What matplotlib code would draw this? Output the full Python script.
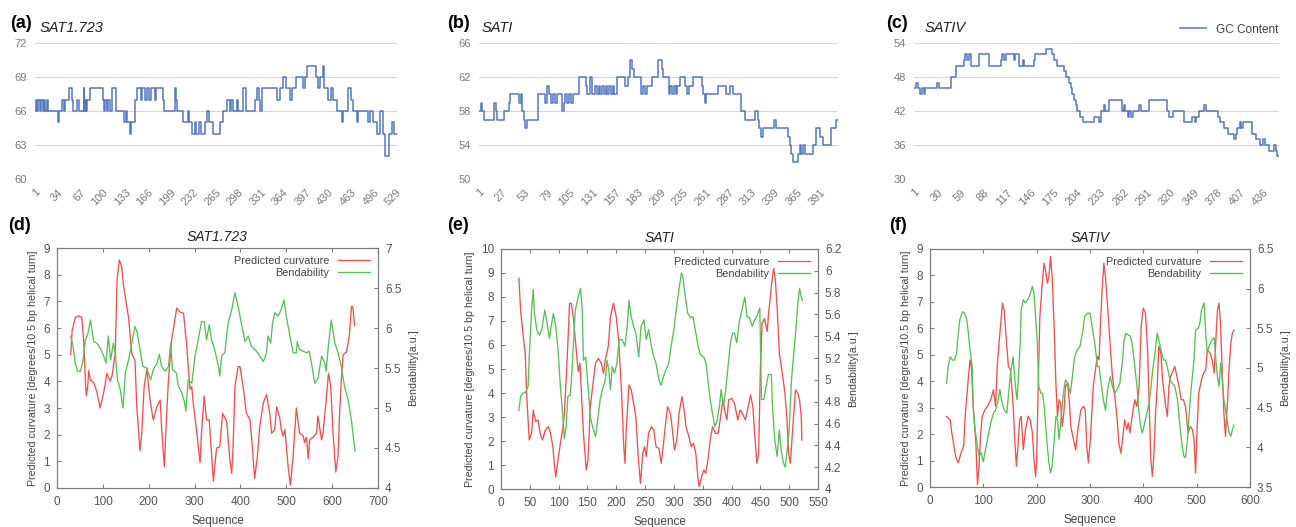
import numpy as np
import matplotlib
matplotlib.use("Agg")
import matplotlib.pyplot as plt
from matplotlib.ticker import FormatStrFormatter

plt.rcParams['font.family'] = ['Liberation Sans', 'DejaVu Sans']

# ---- GC content (step series, breakpoints: index -> value) ----
gc_a_idx = [1, 2, 4, 6, 8, 10, 12, 14, 16, 18, 20, 34, 36, 40, 43, 45, 50, 55, 56, 63, 65, 72, 73, 75, 76, 77, 81,
            101, 102, 104, 106, 108, 110, 114, 119, 120, 131, 134, 136, 140, 142, 147, 150, 156, 158, 162, 164, 168,
            170, 176, 178, 188, 190, 205, 207, 209, 218, 224, 226, 231, 235, 237, 241, 243, 249, 253, 256, 261, 272,
            276, 282, 286, 288, 291, 296, 298, 305, 309, 322, 326, 329, 330, 332, 354, 359, 364, 368, 374, 376, 383,
            393, 395, 398, 411, 415, 417, 420, 422, 424, 429, 434, 436, 442, 450, 451, 458, 463, 466, 471, 473, 488,
            490, 495, 501, 505, 509, 512, 519, 523, 525, 530]
gc_a_val = [66, 67, 66, 67, 66, 67, 66, 67, 66, 67, 66, 65, 66, 67, 66, 67, 68, 67, 66, 67, 66, 68, 66, 67, 66, 67, 68,
            67, 66, 67, 66, 67, 66, 68, 67, 66, 65, 66, 65, 64, 65, 67, 68, 67, 68, 67, 68, 67,
            68, 67, 68, 67, 66, 68, 67, 66, 65, 66, 65, 64, 65, 64, 65, 64, 65, 66, 65, 64, 65,
            66, 67, 66, 67, 66, 67, 66, 68, 66, 67, 68, 67, 66, 68, 67, 68, 69, 68, 67, 68, 69,
            68, 69, 70, 69, 68, 69, 69, 70, 68, 67, 68, 67, 66, 65, 66, 68, 67, 66, 65, 66, 65,
            66, 65, 64, 66, 64, 62, 64, 65, 64, 64]

gc_b_idx = [1, 3, 5, 7, 18, 20, 22, 30, 35, 37, 47, 49, 50, 52, 54, 56, 68, 69, 77, 79, 81, 83, 86, 88, 90, 96, 98,
            100, 102, 104, 106, 109, 115, 123, 125, 128, 130, 134, 136, 138, 140, 142, 144, 146, 148, 150, 152, 154,
            156, 159, 168, 172, 174, 176, 178, 185, 187, 189, 191, 193, 199, 206, 210, 212, 218, 220, 222, 224, 226,
            228, 231, 237, 239, 241, 246, 256, 258, 260, 261, 275, 284, 288, 292, 301, 305, 317, 320, 322, 324, 326,
            339, 341, 355, 357, 358, 360, 366, 368, 370, 372, 374, 381, 383, 387, 391, 395, 404, 410, 412]
gc_b_val = [58, 59, 58, 57, 59, 58, 57, 58, 59, 60, 59, 60, 58, 57, 56, 57, 59, 60, 59, 61, 60, 59, 60, 59, 60, 58, 59,
            60, 59, 60, 59, 60, 62, 61, 60, 62, 60, 61, 60, 61, 60, 61, 60, 61, 60, 61, 60, 61,
            60, 62, 61, 62, 64, 63, 62, 62, 60, 61, 60, 61, 62, 64, 63, 62, 60, 61, 60, 61, 60,
            61, 62, 61, 60, 61, 62, 61, 60, 59, 60, 61, 60, 61, 60, 58, 57, 58, 57, 56, 55, 56,
            57, 56, 55, 54, 53, 52, 53, 54, 53, 54, 53, 53, 54, 56, 55, 54, 56, 57, 57]

gc_c_idx = [1, 4, 6, 9, 11, 13, 15, 30, 32, 47, 53, 63, 65, 67, 69, 72, 82, 94, 109, 111, 113, 115, 125, 127, 132, 136,
            138, 150, 152, 165, 173, 175, 179, 188, 190, 194, 196, 198, 200, 202, 204, 208, 211, 225, 231, 233, 237,
            239, 244, 260, 262, 264, 267, 269, 271, 273, 281, 283, 293, 316, 318, 323, 337, 347, 350, 352, 356, 362,
            364, 379, 381, 387, 391, 399, 401, 403, 406, 408, 410, 422, 426, 431, 435, 437, 443, 449, 451, 453, 455]
gc_c_val = [46, 47, 46, 45, 46, 45, 46, 47, 46, 48, 50, 51, 52, 51, 52, 50, 52, 50, 51, 52, 51, 52, 51, 52, 50, 51,
            50, 51, 52, 53, 52, 51, 50, 49, 48, 47, 46, 45, 44, 43, 42, 41, 40, 41, 40, 42, 43,
            42, 44, 42, 43, 42, 41, 42, 41, 42, 43, 42, 44, 42, 41, 42, 40, 41, 40, 41, 42, 43,
            42, 41, 40, 39, 38, 37, 38, 39, 40, 39, 40, 38, 37, 36, 37, 36, 35, 36, 35, 34, 34]

# ---- Curvature / bendability ----
d_curv_x = [30, 33, 40, 47, 54, 58, 62, 64, 67, 69, 73, 80, 87, 94, 102, 109, 116, 120, 127, 131, 136, 141, 145, 156,
            163, 167, 170, 174, 181, 185, 190, 196, 203, 210, 218, 225, 228, 234, 239, 243, 250, 257, 261, 268, 276,
            283, 290, 294, 297, 305, 312, 315, 321, 326, 332, 341, 348, 355, 361, 370, 377, 381, 384, 388, 395, 399,
            406, 413, 421, 426, 431, 437, 442, 450, 457, 464, 468, 475, 479, 486, 489, 493, 497, 504, 509, 515, 518,
            522, 529, 537, 540, 544, 548, 551, 558, 566, 569, 577, 580, 587, 592, 597, 602, 608, 613, 616, 620, 624,
            631, 635, 638, 642, 645, 649]
d_curv_y = [5.0, 5.9, 6.4, 6.45, 6.4, 5.6, 4.0, 3.45, 3.8, 4.4, 4.05, 3.95, 3.6, 3.0, 3.6, 4.3, 4.0, 4.2, 5.05, 7.8,
            8.55, 8.3, 7.6, 6.4, 5.05, 4.9, 4.8, 3.05, 1.4, 2.1, 3.8, 4.45, 3.3, 2.55, 3.05, 3.3, 2.3, 0.8, 2.7, 4.05,
            5.55, 6.3, 6.75, 6.6, 6.55, 5.3, 3.7, 3.8, 3.2, 2.05, 0.95, 2.05, 3.45, 2.55, 2.55, 0.25, 1.5, 1.55, 2.8,
            2.5, 1.05, 0.55, 1.55, 3.8, 4.55, 4.55, 3.8, 2.8, 2.55, 1.55, 0.35, 1.2, 2.3, 3.2, 3.5, 2.8, 2.05, 2.2,
            3.05, 2.6, 2.2, 1.95, 2.2, 0.8, 0.1, 1.2, 2.05, 3.0, 2.05, 1.95, 1.7, 1.9, 1.1, 1.8, 1.9, 2.05, 2.7, 1.8,
            2.05, 3.3, 4.3, 3.8, 2.05, 0.6, 1.2, 2.7, 4.05, 5.0, 5.1, 5.45, 5.8, 6.8, 6.8, 6.1]
d_bend_x = [30, 35, 40, 45, 51, 57, 62, 67, 73, 80, 87, 94, 102, 107, 112, 117, 123, 127, 132, 138, 144, 149, 156, 163,
            170, 175, 181, 187, 196, 204, 210, 218, 223, 228, 236, 243, 248, 252, 260, 265, 272, 277, 281, 286, 294,
            301, 308, 315, 321, 326, 332, 337, 344, 352, 355, 359, 366, 373, 381, 388, 395, 402, 410, 417, 424, 435,
            442, 450, 457, 460, 466, 470, 475, 482, 489, 495, 500, 508, 515, 522, 524, 529, 537, 544, 550, 555, 562,
            569, 577, 584, 587, 591, 598, 606, 613, 620, 627, 635, 642, 647, 650]
d_bend_y = [5.9, 5.77, 5.56, 5.46, 5.46, 5.6, 5.85, 5.92, 6.1, 5.83, 5.81, 5.75, 5.65, 5.56, 5.9, 5.6, 5.81, 5.69,
            5.35, 5.23, 5.0, 5.44, 5.6, 5.81, 6.02, 5.94, 5.73, 5.52, 5.5, 5.35, 5.48, 5.56, 5.67, 5.52, 5.46, 5.52,
            5.81, 5.48, 5.44, 5.27, 5.19, 5.1, 4.96, 5.35, 5.31, 5.65, 5.85, 6.08, 6.08, 5.85, 6.04, 5.85, 5.73, 5.52,
            5.4, 5.65, 5.69, 6.06, 6.23, 6.44, 6.27, 6.06, 5.83, 5.9, 5.77, 5.71, 5.65, 5.58, 5.69, 5.9, 5.81, 6.06,
            6.19, 6.15, 6.23, 6.35, 6.15, 5.9, 5.69, 5.69, 5.83, 5.73, 5.71, 5.69, 5.71, 5.56, 5.31, 5.37, 5.65, 5.56,
            5.46, 5.73, 6.1, 5.81, 5.69, 5.52, 5.27, 5.1, 4.85, 4.6, 4.46]

e_curv_x = [31, 34, 38, 42, 45, 49, 53, 56, 60, 64, 68, 72, 77, 82, 86, 90, 93, 95, 99, 103, 107, 110, 115, 119, 122,
            126, 130, 134, 137, 139, 143, 148, 151, 155, 159, 164, 169, 174, 178, 181, 186, 190, 195, 200, 204, 209,
            213, 215, 217, 222, 226, 230, 234, 238, 242, 246, 249, 252, 256, 261, 265, 269, 274, 278, 282, 285, 289,
            294, 298, 301, 305, 309, 314, 317, 321, 326, 330, 334, 338, 342, 344, 348, 352, 355, 359, 363, 367, 372,
            377, 381, 385, 388, 392, 395, 400, 405, 411, 415, 419, 424, 429, 433, 437, 440, 444, 447, 450, 453, 457,
            462, 464, 469, 473, 476, 479, 483, 488, 492, 496, 499, 502, 506, 511, 515, 518, 521, 522]
e_curv_y = [8.78, 7.46, 6.49, 5.65, 3.71, 2.04, 2.32, 3.29, 2.81, 2.88, 2.32, 2.04, 2.46, 2.6, 2.32, 1.76, 0.93, 0.51,
            1.21, 1.9, 2.46, 3.15, 5.51, 7.74, 7.74, 7.04, 5.93, 4.89, 5.24, 4.26, 2.32, 0.79, 1.21, 3.43, 4.26, 5.24,
            5.44, 5.24, 4.82, 5.38, 5.93, 7.18, 7.74, 7.18, 6.21, 4.13, 1.76, 1.07, 2.32, 4.33, 4.13, 3.57, 3.01, 1.35,
            0.24, 1.49, 1.76, 1.35, 2.32, 2.6, 2.46, 1.76, 1.69, 1.07, 1.9, 2.6, 3.43, 3.15, 2.32, 1.63, 2.04, 3.15,
            3.85, 3.43, 2.6, 2.18, 1.76, 1.9, 1.49, 0.38, 0.1, 0.51, 0.79, 0.65, 1.21, 2.04, 2.6, 2.32, 2.32, 3.01,
            3.71, 3.29, 2.88, 3.71, 3.78, 3.57, 2.88, 3.29, 3.15, 2.88, 3.43, 3.92, 3.43, 2.32, 1.07, 1.49, 4.96, 6.9,
            7.11, 6.56, 7.25, 8.43, 9.19, 8.71, 7.6, 5.65, 4.82, 4.13, 3.01, 1.49, 1.07, 2.46, 4.13, 3.99, 3.71, 3.01,
            2.04]
e_bend_x = [31, 34, 38, 42, 47, 49, 53, 56, 58, 62, 67, 71, 76, 80, 84, 87, 91, 95, 99, 103, 107, 110, 113, 116, 120,
            123, 126, 129, 134, 138, 141, 143, 147, 151, 155, 159, 164, 167, 172, 176, 181, 184, 187, 190, 193, 197,
            201, 205, 210, 215, 219, 222, 226, 230, 234, 239, 243, 248, 252, 256, 261, 265, 269, 274, 278, 282, 286,
            291, 296, 300, 304, 308, 313, 315, 320, 324, 329, 333, 337, 342, 346, 352, 356, 359, 363, 367, 371, 375,
            379, 382, 386, 390, 395, 398, 402, 405, 409, 414, 418, 423, 427, 431, 436, 440, 444, 449, 452, 456, 460,
            464, 469, 471, 475, 479, 483, 486, 490, 493, 496, 500, 504, 508, 512, 515, 518, 521, 523]
e_bend_y = [4.72, 4.85, 4.88, 4.88, 4.94, 5.21, 5.64, 5.83, 5.61, 5.46, 5.41, 5.47, 5.64, 5.52, 5.38, 5.49, 5.61,
            5.49, 5.28, 4.94, 4.69, 4.46, 4.57, 4.85, 4.86, 5.06, 5.37, 5.64, 5.76, 5.84, 5.64, 5.18, 5.21, 4.94, 4.66,
            4.57, 4.48, 4.6, 4.82, 4.91, 5.0, 5.18, 5.09, 4.91, 5.12, 5.06, 5.15, 5.37, 5.37, 5.31, 5.49, 5.73, 5.58,
            5.49, 5.43, 5.21, 5.49, 5.55, 5.37, 5.46, 5.31, 5.21, 5.15, 5.0, 4.95, 5.03, 5.09, 5.15, 5.34, 5.46, 5.64,
            5.8, 5.98, 5.96, 5.76, 5.61, 5.57, 5.58, 5.46, 5.31, 5.23, 5.21, 5.15, 5.0, 4.82, 4.69, 4.57, 4.63, 4.76,
            4.91, 4.76, 4.91, 5.18, 5.34, 5.43, 5.43, 5.34, 5.55, 5.64, 5.76, 5.58, 5.57, 5.49, 5.55, 5.58, 5.66, 4.82,
            4.82, 4.94, 5.05, 5.05, 4.76, 4.45, 4.3, 4.54, 4.36, 4.24, 4.2, 4.33, 4.54, 5.0, 5.24, 5.49, 5.7, 5.84,
            5.76, 5.73]

f_curv_x = [31, 38, 40, 44, 48, 53, 58, 63, 66, 70, 75, 78, 81, 86, 89, 92, 95, 98, 103, 108, 114, 119, 123, 126, 131,
            136, 139, 144, 147, 151, 156, 159, 162, 165, 168, 171, 175, 179, 184, 188, 192, 195, 198, 200, 203, 206,
            211, 214, 217, 220, 223, 226, 229, 233, 236, 239, 242, 245, 248, 251, 254, 258, 261, 264, 269, 273, 278,
            283, 288, 291, 294, 297, 301, 306, 311, 314, 317, 320, 323, 326, 329, 333, 338, 342, 346, 351, 354, 358,
            361, 365, 369, 372, 375, 379, 384, 388, 392, 396, 400, 404, 408, 411, 414, 417, 420, 423, 426, 429, 433,
            436, 439, 442, 445, 448, 451, 454, 459, 463, 467, 471, 475, 479, 484, 488, 492, 495, 498, 501, 504, 509,
            513, 517, 520, 525, 529, 533, 536, 539, 542, 545, 548, 551, 554, 558, 561, 564, 567, 570]
f_curv_y = [2.67, 2.54, 2.17, 1.66, 1.16, 0.91, 1.28, 1.54, 2.67, 3.68, 4.81, 4.43, 3.05, 1.66, 0.09, 0.78, 2.04, 2.67,
            2.92, 3.05, 3.3, 3.68, 3.05, 4.56, 5.82, 6.95, 6.7, 5.32, 4.56, 4.43, 3.05, 1.79, 0.78, 1.54, 2.54, 2.67,
            1.41, 2.17, 2.67, 2.54, 2.04, 1.03, 0.4, 1.03, 3.93, 6.45, 7.83, 8.46, 8.15, 7.71, 7.96, 8.72, 7.96, 5.94,
            3.93, 2.67, 3.3, 3.17, 2.29, 2.8, 3.8, 3.93, 3.3, 2.29, 1.79, 1.41, 2.29, 2.92, 3.05, 2.92, 1.54, 0.91,
            1.91, 3.8, 4.56, 4.94, 4.81, 6.32, 7.58, 8.46, 7.96, 6.83, 5.32, 4.18, 3.55, 2.54, 1.66, 1.28, 1.79, 2.54,
            2.17, 2.42, 2.04, 2.67, 3.3, 3.05, 3.8, 6.07, 6.76, 6.57, 5.19, 3.05, 1.03, 0.4, 1.28, 2.8, 3.8, 5.32,
            5.06, 4.06, 3.55, 3.05, 2.67, 3.8, 4.18, 4.31, 4.56, 4.18, 3.8, 3.3, 3.3, 3.05, 2.04, 2.29, 2.17, 1.79,
            0.53, 2.29, 3.55, 4.06, 4.31, 4.43, 5.19, 5.06, 4.81, 4.31, 5.57, 6.7, 6.95, 6.07, 4.31, 2.8, 1.91, 3.3,
            4.56, 5.44, 5.82, 5.94]
f_bend_x = [31, 34, 38, 42, 46, 50, 53, 56, 61, 65, 69, 72, 75, 79, 81, 84, 89, 92, 96, 100, 104, 109, 114, 119, 123,
            128, 131, 134, 139, 144, 148, 151, 156, 159, 163, 165, 169, 171, 175, 179, 183, 186, 189, 192, 195, 198,
            201, 204, 208, 211, 214, 217, 220, 223, 226, 229, 233, 236, 239, 242, 245, 250, 254, 258, 263, 267, 271,
            276, 281, 286, 290, 295, 300, 304, 309, 314, 317, 320, 325, 329, 333, 338, 342, 346, 351, 356, 361, 364,
            367, 371, 376, 379, 384, 388, 392, 395, 398, 401, 404, 408, 411, 414, 417, 421, 426, 429, 433, 438, 442,
            446, 450, 454, 459, 464, 467, 470, 473, 476, 479, 483, 486, 490, 495, 498, 503, 506, 509, 514, 517, 520,
            523, 528, 533, 536, 539, 542, 545, 548, 551, 556, 561, 564, 567, 570]
f_bend_y = [4.81, 5.02, 5.14, 5.1, 5.1, 5.19, 5.44, 5.61, 5.71, 5.69, 5.61, 5.44, 5.23, 5.02, 4.52, 4.26, 4.01, 3.89,
            3.93, 3.82, 3.97, 4.14, 4.31, 4.43, 4.47, 4.6, 4.73, 4.6, 4.47, 4.43, 4.73, 4.94, 5.14, 4.85, 4.6, 4.77,
            5.31, 5.73, 5.86, 5.82, 5.86, 5.9, 5.96, 6.03, 5.94, 5.65, 5.35, 4.77, 4.68, 4.68, 4.52, 4.26, 4.01, 3.8,
            3.68, 3.76, 4.1, 4.39, 4.35, 4.1, 4.31, 4.68, 4.85, 4.81, 4.68, 4.89, 5.14, 5.23, 5.27, 5.44, 5.65, 5.69,
            5.69, 5.52, 5.31, 5.02, 5.02, 4.85, 4.6, 4.47, 4.73, 4.89, 4.77, 4.68, 4.73, 4.81, 5.1, 5.35, 5.44, 5.42,
            5.4, 5.31, 5.02, 4.77, 4.43, 4.26, 4.18, 4.26, 4.35, 4.47, 4.56, 4.73, 4.94, 5.14, 5.44, 5.35, 5.23, 5.1,
            5.1, 4.98, 4.85, 4.81, 4.77, 4.6, 4.39, 4.18, 4.01, 3.89, 3.87, 4.1, 4.43, 4.77, 5.1, 5.48, 5.5, 5.56,
            5.73, 5.82, 5.44, 5.19, 5.27, 5.35, 5.38, 5.1, 4.89, 4.77, 5.06, 4.85, 4.6, 4.39, 4.18, 4.14, 4.22, 4.28]

W, H = 1296, 527
fig = plt.figure(figsize=(W / 100, H / 100), dpi=100)


def px(l, t, r, b):
    return [l / W, 1 - b / H, (r - l) / W, (b - t) / H]


blue = '#5477c4'
grey = '#7a7a7a'


def gc_panel(rect, idx, val, ticks, ylim, yticks, label, name, lx, nx, legend=False):
    ax = fig.add_axes(px(*rect))
    ax.step(idx, val, where='post', color=blue, lw=1.1, label='GC Content')
    ax.set_xlim(1, idx[-1])
    ax.set_ylim(*ylim)
    ax.set_yticks(yticks)
    ax.set_xticks(ticks)
    ax.set_xticklabels([str(t) for t in ticks], rotation=45, ha='right', rotation_mode='anchor')
    ax.grid(axis='y', color='#d6d6d6', lw=0.8)
    for s in ax.spines.values():
        s.set_visible(False)
    ax.tick_params(length=0, labelsize=8, colors=grey, pad=6)
    fig.text(lx / W, 1 - 24 / H, label, fontsize=13, fontweight='bold', va='center')
    fig.text(nx / W, 1 - 28 / H, name, fontsize=10.5, style='italic', va='center', color='#222222')
    if legend:
        ax.legend(loc='lower right', bbox_to_anchor=(1.01, 1.02), frameon=False, fontsize=8.5,
                  handlelength=2.2, borderaxespad=0, labelcolor='#444444')
    return ax


gc_panel((35, 43, 397, 179), gc_a_idx, gc_a_val, list(range(1, 530, 33)), (60, 72), [60, 63, 66, 69, 72],
         '(a)', 'SAT1.723', 10, 40)
gc_panel((479, 43, 838, 179), gc_b_idx, gc_b_val, list(range(1, 392, 26)), (50, 66), [50, 54, 58, 62, 66],
         '(b)', 'SATI', 447, 482)
gc_panel((914, 43, 1279, 179), gc_c_idx, gc_c_val, list(range(1, 437, 29)), (30, 54), [30, 36, 42, 48, 54],
         '(c)', 'SATIV', 886, 925, legend=True)

red = '#f24f4f'
green = '#58c058'
frame = '#7d7d7d'


def curv_panel(rect, cx, cy, bx, by, xlim, xticks, ylim, yticks, y2lim, y2ticks, label, name, lx):
    ax = fig.add_axes(px(*rect))
    ax2 = ax.twinx()
    l1, = ax.plot(cx, cy, color=red, lw=0.95, label='Predicted curvature')
    l2, = ax2.plot(bx, by, color=green, lw=0.95, label='Bendability')
    ax.set_xlim(*xlim)
    ax.set_xticks(xticks)
    ax.set_ylim(*ylim)
    ax.set_yticks(yticks)
    ax2.set_ylim(*y2lim)
    ax2.set_yticks(y2ticks)
    ax2.yaxis.set_major_formatter(FormatStrFormatter('%g'))
    for a in (ax, ax2):
        for s in a.spines.values():
            s.set_color(frame)
            s.set_linewidth(0.8)
        a.tick_params(direction='in', length=3, labelsize=8.5, colors='#555555', color=frame, pad=5)
    ax.tick_params(axis='x', top=True, pad=6)
    ax.set_xlabel('Sequence', fontsize=8.5, color='#444444', labelpad=5)
    ax.set_ylabel('Predicted curvature [degrees/10.5 bp helical turn]', fontsize=7.7, color='#444444', labelpad=4)
    ax2.set_ylabel('Bendability[a.u.]', fontsize=7.7, color='#444444', labelpad=5)
    ax.set_title(name, fontsize=10, style='italic', color='#222222', pad=5)
    ax.legend([l1, l2], ['Predicted curvature', 'Bendability'], loc='upper right', frameon=False,
              markerfirst=False, fontsize=7.8, handlelength=3.0, labelspacing=0.2, borderaxespad=0.3,
              labelcolor='#444444', handletextpad=0.8)
    fig.text(lx / W, 1 - 226 / H, label, fontsize=13, fontweight='bold', va='center')


curv_panel((57, 248, 378, 488), d_curv_x, d_curv_y, d_bend_x, d_bend_y, (0, 700), range(0, 701, 100),
           (0, 9), range(0, 10), (4, 7), np.arange(4, 7.01, 0.5), '(d)', 'SAT1.723', 8)
curv_panel((501, 249, 818, 489), e_curv_x, e_curv_y, e_bend_x, e_bend_y, (0, 550), range(0, 551, 50),
           (0, 10), range(0, 11), (4, 6.2), np.arange(4, 6.21, 0.2), '(e)', 'SATI', 447)
curv_panel((930, 249, 1250, 487), f_curv_x, f_curv_y, f_bend_x, f_bend_y, (0, 600), range(0, 601, 100),
           (0, 9), range(0, 10), (3.5, 6.5), np.arange(3.5, 6.51, 0.5), '(f)', 'SATIV', 889)

fig.savefig('out.png', dpi=100)
